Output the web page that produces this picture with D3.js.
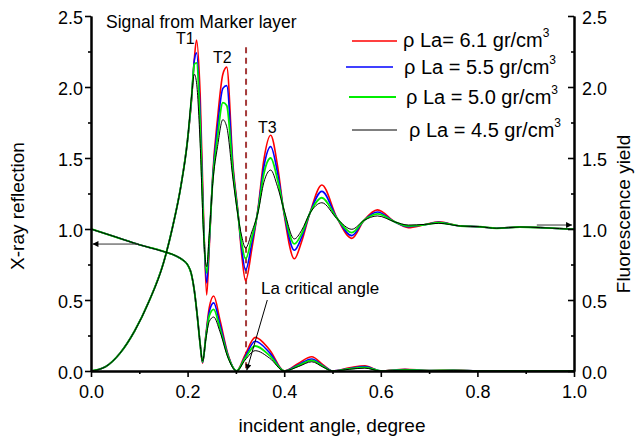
<!DOCTYPE html>
<html><head><meta charset="utf-8">
<script src="https://cdn.jsdelivr.net/npm/d3@7"></script>
<style>
body{margin:0;background:#fff}
svg{display:block}
text{font-family: Arial, "Liberation Sans", Helvetica, sans-serif; fill:#000}
</style></head><body>
<svg id="chart" width="636" height="437"></svg>
<script>
// ---- data ----
const angleF = [0, 0.03, 0.06, 0.09, 0.12, 0.15, 0.17, 0.186, 0.2, 0.208, 0.214, 0.2185, 0.226, 0.233, 0.2395, 0.245, 0.252, 0.262, 0.273, 0.281, 0.294, 0.304, 0.312, 0.32, 0.333, 0.346, 0.358, 0.372, 0.386, 0.40, 0.421, 0.436, 0.453, 0.478, 0.509, 0.54, 0.565, 0.593, 0.629, 0.657, 0.69, 0.72, 0.765, 0.805, 0.84, 0.888, 0.93, 0.97, 1.0];
const fluo61 = [0, 0.03, 0.125, 0.28, 0.49, 0.76, 1.03, 1.30, 1.63, 1.90, 2.20, 2.33, 1.95, 1.10, 0.535, 0.88, 1.38, 1.78, 2.09, 2.14, 1.45, 1.13, 0.82, 0.635, 0.86, 1.15, 1.49, 1.66, 1.45, 1.10, 0.79, 0.91, 1.11, 1.31, 1.08, 0.934, 1.06, 1.135, 1.05, 1.01, 1.03, 1.05, 1.021, 1.016, 1.005, 1.015, 1.01, 1.003, 0.998];
const fluo55 = [0, 0.03, 0.125, 0.28, 0.49, 0.76, 1.03, 1.30, 1.63, 1.91, 2.19, 2.24, 1.82, 1.04, 0.62, 0.91, 1.36, 1.72, 1.99, 2.01, 1.42, 1.12, 0.86, 0.71, 0.90, 1.14, 1.44, 1.58, 1.40, 1.11, 0.85, 0.94, 1.11, 1.265, 1.078, 0.953, 1.06, 1.12, 1.05, 1.017, 1.03, 1.047, 1.021, 1.016, 1.005, 1.014, 1.01, 1.003, 0.998];
const fluo50 = [0, 0.03, 0.125, 0.28, 0.49, 0.76, 1.03, 1.30, 1.63, 1.92, 2.16, 2.17, 1.72, 1.00, 0.69, 0.94, 1.34, 1.65, 1.89, 1.87, 1.39, 1.11, 0.90, 0.79, 0.94, 1.13, 1.39, 1.50, 1.35, 1.12, 0.895, 0.965, 1.11, 1.22, 1.076, 0.974, 1.06, 1.106, 1.05, 1.022, 1.03, 1.044, 1.021, 1.016, 1.005, 1.014, 1.01, 1.003, 0.998];
const fluo45 = [0, 0.03, 0.125, 0.28, 0.49, 0.76, 1.03, 1.30, 1.63, 1.93, 2.09, 2.03, 1.60, 0.97, 0.735, 0.97, 1.32, 1.58, 1.77, 1.72, 1.35, 1.10, 0.95, 0.865, 0.98, 1.12, 1.33, 1.415, 1.30, 1.13, 0.93, 0.99, 1.11, 1.185, 1.074, 0.998, 1.06, 1.092, 1.05, 1.028, 1.032, 1.04, 1.021, 1.016, 1.005, 1.014, 1.01, 1.003, 0.998];

const angleR = [0, 0.05, 0.1, 0.15, 0.175, 0.19, 0.2, 0.208, 0.214, 0.22, 0.226, 0.231, 0.238, 0.245, 0.254, 0.267, 0.284, 0.3015, 0.319, 0.34, 0.37, 0.40, 0.43, 0.457, 0.48, 0.50, 0.535, 0.567, 0.60, 0.65, 0.70, 0.75, 0.80, 0.9, 1.0];
const refl61 = [1.0, 0.945, 0.889, 0.842, 0.812, 0.782, 0.748, 0.68, 0.565, 0.39, 0.19, 0.055, 0.26, 0.45, 0.528, 0.36, 0.113, 0.0, 0.113, 0.237, 0.148, 0.0, 0.055, 0.10, 0.045, 0.0, 0.022, 0.037, 0.0, 0.012, 0.004, 0.006, 0.002, 0.0, 0.0];
const refl55 = [1.0, 0.945, 0.889, 0.842, 0.812, 0.782, 0.748, 0.68, 0.565, 0.39, 0.19, 0.06, 0.25, 0.42, 0.48, 0.33, 0.105, 0.0, 0.10, 0.209, 0.128, 0.0, 0.045, 0.085, 0.038, 0.0, 0.018, 0.031, 0.0, 0.01, 0.003, 0.005, 0.002, 0.0, 0.0];
const refl50 = [1.0, 0.945, 0.889, 0.842, 0.812, 0.782, 0.748, 0.68, 0.565, 0.39, 0.19, 0.065, 0.24, 0.39, 0.434, 0.30, 0.098, 0.0, 0.09, 0.176, 0.108, 0.0, 0.038, 0.075, 0.033, 0.0, 0.015, 0.026, 0.0, 0.008, 0.003, 0.004, 0.001, 0.0, 0.0];
const refl45 = [1.0, 0.945, 0.889, 0.842, 0.812, 0.782, 0.748, 0.68, 0.565, 0.39, 0.19, 0.07, 0.23, 0.35, 0.38, 0.277, 0.09, 0.0, 0.077, 0.143, 0.09, 0.0, 0.032, 0.065, 0.028, 0.0, 0.012, 0.02, 0.0, 0.006, 0.002, 0.003, 0.001, 0.0, 0.0];

const seriesNames = ["\u03C1 La= 6.1 gr/cm", "\u03C1 La = 5.5 gr/cm", "\u03C1 La = 5.0 gr/cm", "\u03C1 La = 4.5 gr/cm"];
const xTicks = [0, 0.2, 0.4, 0.6, 0.8, 1.0];
const xMinor = [0.1, 0.3, 0.5, 0.7, 0.9];
const yTicks = [0, 0.5, 1.0, 1.5, 2.0, 2.5];
const yMinor = [0.25, 0.75, 1.25, 1.75, 2.25];
const criticalAngle = 0.321;

// ---- chart ----
const svg = d3.select("#chart");
const x = d3.scaleLinear().domain([0, 1]).range([91, 574]);
const y = d3.scaleLinear().domain([0, 2.5]).range([371, 16]);

const series = [
  {name: seriesNames[0], f: fluo61, r: refl61, color: "#ff0000", w: 1.6},
  {name: seriesNames[1], f: fluo55, r: refl55, color: "#0000ff", w: 1.6},
  {name: seriesNames[2], f: fluo50, r: refl50, color: "#00ee00", w: 1.8},
  {name: seriesNames[3], f: fluo45, r: refl45, color: "#000000", w: 1.0}
];

const defs = svg.append("defs");
defs.append("marker").attr("id", "ah").attr("viewBox", "0 0 10 10").attr("refX", 10).attr("refY", 5)
  .attr("markerWidth", 8).attr("markerHeight", 6).attr("markerUnits", "userSpaceOnUse").attr("orient", "auto")
  .append("path").attr("d", "M0,0L10,5L0,10z").attr("fill", "#000");

// dashed critical-angle line
svg.append("line").attr("x1", x(criticalAngle)).attr("x2", x(criticalAngle))
  .attr("y1", y(2.28)).attr("y2", y(0))
  .attr("stroke", "#a53a3a").attr("stroke-width", 2).attr("stroke-dasharray", "6,4.5");

const lineF = d3.line().x((d, i) => x(angleF[i])).y(d => y(d)).curve(d3.curveMonotoneX);
const lineR = d3.line().x((d, i) => x(angleR[i])).y(d => y(d)).curve(d3.curveMonotoneX);

const g = svg.append("g");
series.forEach(s => {
  g.append("path").attr("d", lineR(s.r)).attr("fill", "none").attr("stroke", s.color).attr("stroke-width", s.w);
  g.append("path").attr("d", lineF(s.f)).attr("fill", "none").attr("stroke", s.color).attr("stroke-width", s.w);
});

// axes
function styleAxis(sel) {
  sel.select(".domain").attr("stroke", "#000").attr("stroke-width", 2);
  sel.selectAll(".tick line").attr("stroke", "#000").attr("stroke-width", 1.6);
  sel.selectAll("text").style("font-size", "18px").attr("fill", "#000");
}
const fmt = d3.format(".1f");
svg.append("g").attr("transform", "translate(91,0)")
  .call(d3.axisLeft(y).tickValues(yMinor).tickSize(3).tickSizeOuter(0).tickFormat(""))
  .call(styleAxis);
svg.append("g").attr("transform", "translate(91,0)")
  .call(d3.axisLeft(y).tickValues(yTicks).tickSize(6).tickSizeOuter(0).tickPadding(2).tickFormat(fmt))
  .call(styleAxis).call(s => s.selectAll("text").attr("dy", "0.42em"));
svg.append("g").attr("transform", "translate(574,0)")
  .call(d3.axisRight(y).tickValues(yMinor).tickSize(-3).tickSizeOuter(0).tickFormat(""))
  .call(styleAxis);
svg.append("g").attr("transform", "translate(574,0)")
  .call(d3.axisRight(y).tickValues(yTicks).tickSize(-6).tickSizeOuter(0).tickPadding(8).tickFormat(fmt))
  .call(styleAxis).call(s => s.selectAll("text").attr("dy", "0.40em"));
svg.append("g").attr("transform", "translate(0,371)")
  .call(d3.axisBottom(x).tickValues(xMinor).tickSize(3).tickSizeOuter(0).tickFormat(""))
  .call(styleAxis);
svg.append("g").attr("transform", "translate(0,371)")
  .call(d3.axisBottom(x).tickValues(xTicks).tickSize(6).tickSizeOuter(0).tickPadding(8).tickFormat(fmt))
  .call(styleAxis);

// axis titles
svg.append("text").attr("transform", "translate(24,206) rotate(-90)").attr("text-anchor", "middle")
  .style("font-size", "19px").text("X-ray reflection");
svg.append("text").attr("transform", "translate(630,214) rotate(-90)").attr("text-anchor", "middle")
  .style("font-size", "19px").text("Fluorescence yield");
svg.append("text").attr("x", 332).attr("y", 432).attr("text-anchor", "middle")
  .style("font-size", "19px").text("incident angle, degree");

// annotations
svg.append("text").attr("x", 106).attr("y", 27.5).style("font-size", "17.5px").text("Signal from Marker layer");
svg.append("text").attr("x", 176).attr("y", 44).style("font-size", "16px").text("T1");
svg.append("text").attr("x", 213).attr("y", 63).style("font-size", "16px").text("T2");
svg.append("text").attr("x", 258).attr("y", 133).style("font-size", "16px").text("T3");
svg.append("text").attr("x", 261).attr("y", 294).style("font-size", "17px").text("La critical angle");

svg.append("line").attr("x1", x(0.365)).attr("y1", y(0.5)).attr("x2", x(0.3225)).attr("y2", y(0.005))
  .attr("stroke", "#000").attr("stroke-width", 1).attr("marker-end", "url(#ah)");
svg.append("line").attr("x1", x(0.098)).attr("y1", y(0.894)).attr("x2", x(0.003)).attr("y2", y(0.894))
  .attr("stroke", "#333").attr("stroke-width", 1).attr("marker-end", "url(#ah)");
svg.append("line").attr("x1", x(0.923)).attr("y1", y(1.028)).attr("x2", x(0.996)).attr("y2", y(1.028))
  .attr("stroke", "#333").attr("stroke-width", 1).attr("marker-end", "url(#ah)");

// legend
const legendPos = [
  {lx1: 352, lx2: 397, ly: 41, tx: 403, ty: 47},
  {lx1: 346, lx2: 393, ly: 67, tx: 404, ty: 73.5},
  {lx1: 349, lx2: 396, ly: 97, tx: 406, ty: 104},
  {lx1: 352, lx2: 397, ly: 130, tx: 409, ty: 137}
];
series.forEach((s, i) => {
  const p = legendPos[i];
  svg.append("line").attr("x1", p.lx1).attr("x2", p.lx2).attr("y1", p.ly).attr("y2", p.ly)
    .attr("stroke", s.color).attr("stroke-width", s.w);
  const t = svg.append("text").attr("x", p.tx).attr("y", p.ty).style("font-size", "20px");
  t.append("tspan").text(s.name);
  t.append("tspan").attr("dy", -10).style("font-size", "12px").text("3");
});
</script>
</body></html>
